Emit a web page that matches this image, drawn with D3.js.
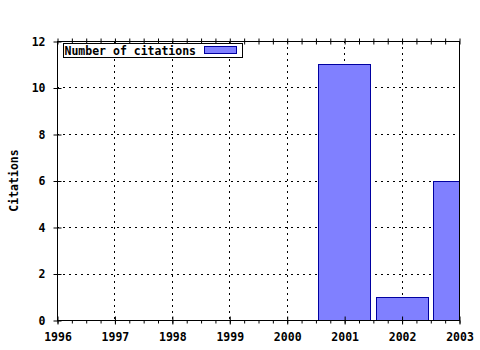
<!DOCTYPE html>
<html>
<head>
<meta charset="utf-8">
<script src="https://cdn.jsdelivr.net/npm/d3@7"></script>
<style>
  body { margin: 0; background: #fff; }
  text { font-family: "DejaVu Sans Mono", monospace; font-weight: bold; font-size: 11.5px; }
</style>
</head>
<body>
<div id="chart"></div>
<script>
var years = [1996, 1997, 1998, 1999, 2000, 2001, 2002, 2003];
var citations = [0, 0, 0, 0, 0, 11, 1, 6];
var yTicks = [0, 2, 4, 6, 8, 10, 12];
var seriesName = 'Number of citations';

var W = 480, H = 350;
var m = {left: 57, right: 21, top: 41, bottom: 30};
var iw = W - m.left - m.right, ih = H - m.top - m.bottom;

var svg = d3.select('#chart').append('svg').attr('width', W).attr('height', H);
var g = svg.append('g').attr('transform', 'translate(' + m.left + ',' + m.top + ')');

var x = d3.scaleLinear().domain([1996, 2003]).range([0, iw]);
var y = d3.scaleLinear().domain([0, 12]).range([ih, 0]);
var step = x(1997) - x(1996);

// grid
g.selectAll('.vg').data(years.slice(1, -1)).enter().append('line')
  .attr('x1', function (d) { return Math.round(x(d)) + 0.5; })
  .attr('x2', function (d) { return Math.round(x(d)) + 0.5; })
  .attr('y1', 0).attr('y2', ih)
  .attr('stroke', '#000').attr('stroke-dasharray', '2,4');
g.selectAll('.hg').data(yTicks.slice(1, -1)).enter().append('line')
  .attr('y1', function (d) { return Math.round(y(d)) + 0.5; })
  .attr('y2', function (d) { return Math.round(y(d)) + 0.5; })
  .attr('x1', 0).attr('x2', iw)
  .attr('stroke', '#000').attr('stroke-dasharray', '2,4');

// bars, clipped to plot
var bars = years.map(function (yr, i) { return {year: yr, v: citations[i]}; })
  .filter(function (d) { return d.v > 0; });
svg.append('clipPath').attr('id', 'clip').append('rect')
  .attr('width', iw + 1).attr('height', ih + 1);
g.append('g').attr('clip-path', 'url(#clip)')
  .selectAll('rect').data(bars).enter().append('rect')
  .attr('x', function (d) { return Math.round(x(d.year) - step * 0.45) + 0.5; })
  .attr('width', Math.round(step * 0.9))
  .attr('y', function (d) { return Math.round(y(d.v)) + 0.5; })
  .attr('height', function (d) { return Math.round(ih - y(d.v)); })
  .attr('fill', '#8080ff').attr('stroke', '#0000a0');

// frame
g.append('rect').attr('x', 0.5).attr('y', 0.5).attr('width', iw).attr('height', ih)
  .attr('fill', 'none').attr('stroke', '#000');

// axes
var minor = d3.range(1996, 2003.01, 0.25);
var xAxis = d3.axisBottom(x).tickValues(years).tickFormat(d3.format('d')).tickSize(4).tickPadding(8);
var xa = g.append('g').attr('transform', 'translate(0.5,' + (ih + 0.5) + ')').call(xAxis);
xa.select('.domain').remove();
xa.selectAll('.tick line').attr('y1', -4);
g.append('g').attr('transform', 'translate(0.5,' + (ih + 0.5) + ')')
  .call(d3.axisBottom(x).tickValues(minor).tickSize(3).tickFormat(''))
  .select('.domain').remove();
g.append('g').attr('transform', 'translate(0.5,0.5)')
  .call(d3.axisTop(x).tickValues(minor).tickSize(-3).tickFormat(''))
  .call(function (a) { a.select('.domain').remove(); a.selectAll('.tick line').attr('y1', -3); });

var ya = g.append('g').attr('transform', 'translate(0.5,0.5)')
  .call(d3.axisLeft(y).tickValues(yTicks).tickSize(4).tickPadding(8));
ya.select('.domain').remove();
ya.selectAll('.tick line').attr('x1', 4).attr('x2', -4);
g.selectAll('.tick text').attr('fill', '#000').style('font-size', '11.5px');

// y label
svg.append('text')
  .attr('transform', 'translate(18,' + (m.top + ih / 2) + ') rotate(-90)')
  .attr('text-anchor', 'middle').text('Citations');

// legend
var lg = g.append('g').attr('transform', 'translate(6.5,2.5)');
lg.append('rect').attr('width', 179).attr('height', 14).attr('fill', '#fff').attr('stroke', '#000');
lg.append('text').attr('x', 1).attr('y', 11).text(seriesName);
lg.append('rect').attr('x', 141).attr('y', 3).attr('width', 32).attr('height', 7)
  .attr('fill', '#8080ff').attr('stroke', '#0000a0');
</script>
</body>
</html>
